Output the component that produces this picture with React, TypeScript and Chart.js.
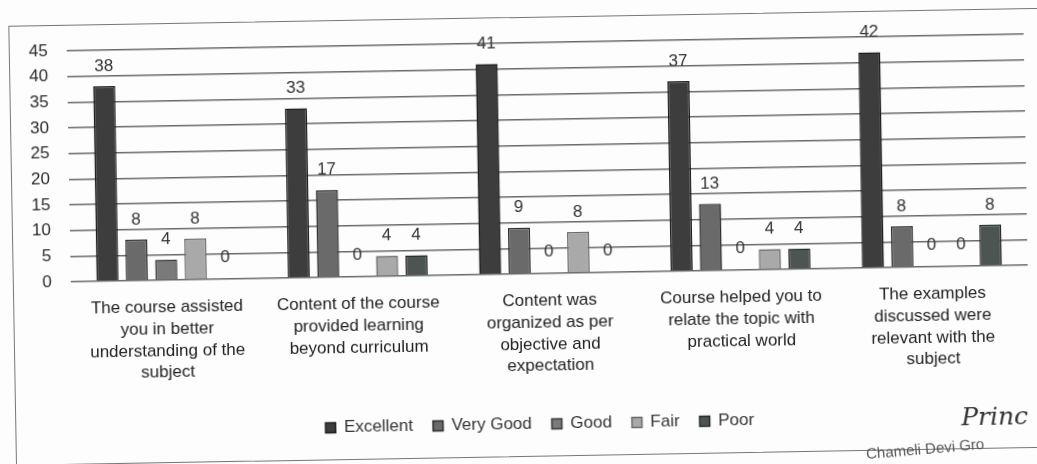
import React, { useEffect, useRef } from "react";
import { Chart, registerables } from "chart.js";

Chart.register(...registerables);

const categories: string[][] = [
  ["The course assisted", "you in better", "understanding of the", "subject"],
  ["Content of the course", "provided learning", "beyond curriculum"],
  ["Content was", "organized as per", "objective and", "expectation"],
  ["Course helped you to", "relate the topic with", "practical world"],
  ["The examples", "discussed were", "relevant with the", "subject"],
];

const seriesNames = ["Excellent", "Very Good", "Good", "Fair", "Poor"];
const excellent = [38, 33, 41, 37, 42];
const veryGood = [8, 17, 9, 13, 8];
const good = [4, 0, 0, 0, 0];
const fair = [8, 4, 8, 4, 0];
const poor = [0, 4, 0, 4, 8];
const yMin = 0;
const yMax = 45;
const yStep = 5;

const fills = ["#3d3d3d", "#6a6a6a", "#7a7a7a", "#a9a9a9", "#4d5553"];
const borders = ["#1e1e1e", "#2e2e2e", "#3a3a3a", "#6a6a6a", "#262b2a"];

const FONT = "'Liberation Sans', Arial, sans-serif";

const valueLabels = {
  id: "valueLabels",
  afterDatasetsDraw(chart: any) {
    const ctx = chart.ctx;
    ctx.save();
    ctx.font = `17px ${FONT}`;
    ctx.fillStyle = "#333333";
    ctx.textAlign = "center";
    ctx.textBaseline = "middle";
    chart.data.datasets.forEach((ds: any, i: number) => {
      const meta = chart.getDatasetMeta(i);
      meta.data.forEach((el: any, j: number) => {
        const v = ds.data[j];
        ctx.fillText(String(v), el.x, el.y - (v === 0 ? 22 : 20));
      });
    });
    ctx.restore();
  },
};

// shift the legend a little to the right, as in the original document
const legendShift = {
  id: "legendShift",
  afterLayout(chart: any) {
    if (chart.legend) {
      chart.legend.left += 19;
      chart.legend.right += 19;
    }
  },
};

export default function App() {
  const ref = useRef<HTMLCanvasElement>(null);

  useEffect(() => {
    if (!ref.current) return;
    const series = [excellent, veryGood, good, fair, poor];
    const chart = new Chart(ref.current, {
      type: "bar",
      data: {
        labels: categories,
        datasets: series.map((d, i) => ({
          label: seriesNames[i],
          data: d,
          backgroundColor: fills[i],
          borderColor: borders[i],
          borderWidth: 1.5,
          barPercentage: 0.75,
          categoryPercentage: 0.77,
        })),
      },
      options: {
        responsive: false,
        animation: false,
        layout: { padding: { left: 8, right: 10, top: 43, bottom: 21 } },
        plugins: {
          tooltip: { enabled: false },
          legend: {
            position: "bottom",
            labels: {
              boxWidth: 10,
              boxHeight: 10,
              padding: 20,
              color: "#333333",
              font: { family: FONT, size: 17 },
            },
          },
        },
        scales: {
          x: {
            grid: { display: false, drawTicks: false },
            border: { display: false },
            ticks: {
              color: "#222222",
              font: { family: FONT, size: 17, lineHeight: 1.27 },
              padding: 17,
              autoSkip: false,
              maxRotation: 0,
            },
            afterFit(scale: any) {
              scale.height = 122;
            },
          },
          y: {
            min: yMin,
            max: yMax,
            ticks: {
              stepSize: yStep,
              color: "#2a2a2a",
              font: { family: FONT, size: 17 },
              padding: 19,
            },
            grid: { color: "#6a6a6a", lineWidth: 1.5, drawTicks: false },
            border: { display: false },
            afterFit(scale: any) {
              scale.width = 62;
            },
          },
        },
      },
      plugins: [valueLabels, legendShift],
    });
    return () => chart.destroy();
  }, []);

  return (
    <div
      style={{
        position: "absolute",
        left: 0,
        top: 0,
        width: 1037,
        height: 464,
        overflow: "hidden",
        background: "#fdfdfd",
      }}
    >
      <div
        style={{
          position: "absolute",
          left: 0,
          top: 0,
          width: 1037,
          height: 464,
          transform: "rotate(-1deg)",
          transformOrigin: "518px 232px",
        }}
      >
        <div
          style={{
            position: "absolute",
            left: 12,
            top: 17,
            width: 1060,
            height: 440,
            border: "1.5px solid #777",
            boxSizing: "border-box",
          }}
        />
        <canvas
          ref={ref}
          width={1037}
          height={464}
          style={{ position: "absolute", left: 0, top: 0, width: 1037, height: 464 }}
        />
        <div
          style={{
            position: "absolute",
            left: 958,
            top: 410,
            fontFamily: "'DejaVu Serif', serif",
            fontStyle: "italic",
            fontSize: 25,
            color: "#333",
            whiteSpace: "nowrap",
          }}
        >
          Princ
        </div>
        <div
          style={{
            position: "absolute",
            left: 862,
            top: 447,
            fontFamily: FONT,
            fontSize: 15,
            color: "#555",
            whiteSpace: "nowrap",
            transform: "rotate(-4deg)",
          }}
        >
          Chameli Devi Gro
        </div>
      </div>
    </div>
  );
}
